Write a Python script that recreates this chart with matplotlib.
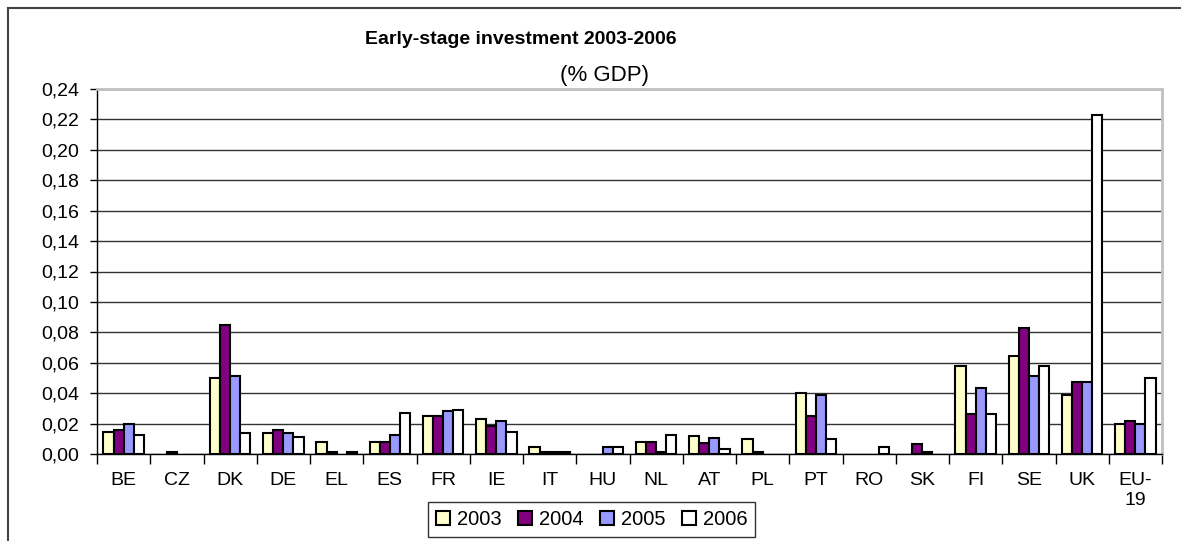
import matplotlib
matplotlib.use('Agg')
import matplotlib.pyplot as plt
import numpy as np
from matplotlib.lines import Line2D
from matplotlib.patches import Patch
from matplotlib.ticker import FuncFormatter

plt.rcParams['font.family'] = ['Liberation Sans', 'DejaVu Sans']

countries = ['BE', 'CZ', 'DK', 'DE', 'EL', 'ES', 'FR', 'IE', 'IT', 'HU',
             'NL', 'AT', 'PL', 'PT', 'RO', 'SK', 'FI', 'SE', 'UK', 'EU-\n19']
years = ['2003', '2004', '2005', '2006']

v2003 = [0.0142, 0, 0.050, 0.0139, 0.0077, 0.0077, 0.0248, 0.023, 0.0044, 0,
         0.0081, 0.012, 0.0097, 0.040, 0, 0, 0.0576, 0.0644, 0.0385, 0.0195]
v2004 = [0.0158, 0.001, 0.085, 0.0158, 0.001, 0.0077, 0.0248, 0.0187, 0.001, 0,
         0.0081, 0.0075, 0.001, 0.025, 0, 0.0064, 0.0264, 0.0831, 0.0475, 0.0218]
v2005 = [0.0195, 0, 0.0516, 0.0139, 0, 0.0127, 0.0284, 0.0215, 0.001, 0.0046,
         0.001, 0.0105, 0, 0.0387, 0, 0.001, 0.0437, 0.0516, 0.0475, 0.0195]
v2006 = [0.0123, 0, 0.014, 0.011, 0.001, 0.0268, 0.029, 0.0143, 0.001, 0.0046,
         0.0125, 0.003, 0, 0.0099, 0.0048, 0, 0.0264, 0.0576, 0.223, 0.050]

series = [v2003, v2004, v2005, v2006]
colors = ['#FFFFCC', '#800080', '#9999FF', '#FFFFFF']

fig = plt.figure(figsize=(11.81, 5.41), dpi=100)
ax = fig.add_axes([97 / 1181, 1 - 454 / 541, (1162 - 97) / 1181, (454 - 89) / 541])

x = np.arange(len(countries))
w = 0.19
for j, (vals, c) in enumerate(zip(series, colors)):
    vals = np.array(vals)
    keep = vals > 0
    ax.bar(x[keep] + (j - 1.5) * w, vals[keep], width=w, color=c,
           edgecolor='black', linewidth=1.5, zorder=3)

ax.set_xlim(-0.5, len(countries) - 0.5)
ax.set_ylim(0, 0.24)
ax.set_yticks(np.arange(0, 0.2401, 0.02))
ax.yaxis.set_major_formatter(FuncFormatter(lambda v, p: f'{v:.2f}'.replace('.', ',')))
ax.grid(axis='y', color='#333333', linewidth=1, zorder=0)
ax.set_axisbelow(True)

# category boundaries get the tick marks, labels sit at the centres
ax.set_xticks(np.arange(-0.5, len(countries), 1))
ax.set_xticklabels([])
ax.set_xticks(x, minor=True)
ax.set_xticklabels(countries, minor=True)
ax.tick_params(axis='x', which='major', length=7, width=1, direction='out')
ax.tick_params(axis='x', which='minor', length=0, pad=13, labelsize=14)
ax.tick_params(axis='y', length=5, width=1, pad=8, labelsize=14)

for s in ['left', 'bottom']:
    ax.spines[s].set_color('black')
    ax.spines[s].set_linewidth(1)
for s in ['top', 'right']:
    ax.spines[s].set_color('#c0c0c0')
    ax.spines[s].set_linewidth(2)

fig.text(521 / 1181, 1 - 40 / 541, 'Early-stage investment 2003-2006',
         ha='center', va='center', fontsize=14, fontweight='bold')
fig.text(604 / 1181, 1 - 76 / 541, '(% GDP)', ha='center', va='center', fontsize=16)

handles = [Patch(facecolor=c, edgecolor='black', linewidth=1.5) for c in colors]
leg = fig.legend(handles, years, loc='upper left', ncol=4,
                 bbox_to_anchor=(428 / 1181, 1 - 502 / 541), fontsize=14.5,
                 frameon=True, fancybox=False, handlelength=0.7, handleheight=0.7,
                 handletextpad=0.35, columnspacing=0.8, borderpad=0.4,
                 borderaxespad=0)
leg.get_frame().set_edgecolor('black')
leg.get_frame().set_linewidth(1)

fig.add_artist(Line2D([8 / 1181, 8 / 1181], [0, 1 - 8 / 541], color='#444444', linewidth=1.5))
fig.add_artist(Line2D([8 / 1181, 1], [1 - 8 / 541, 1 - 8 / 541], color='#444444', linewidth=1.5))

fig.savefig('out.png', dpi=100)
